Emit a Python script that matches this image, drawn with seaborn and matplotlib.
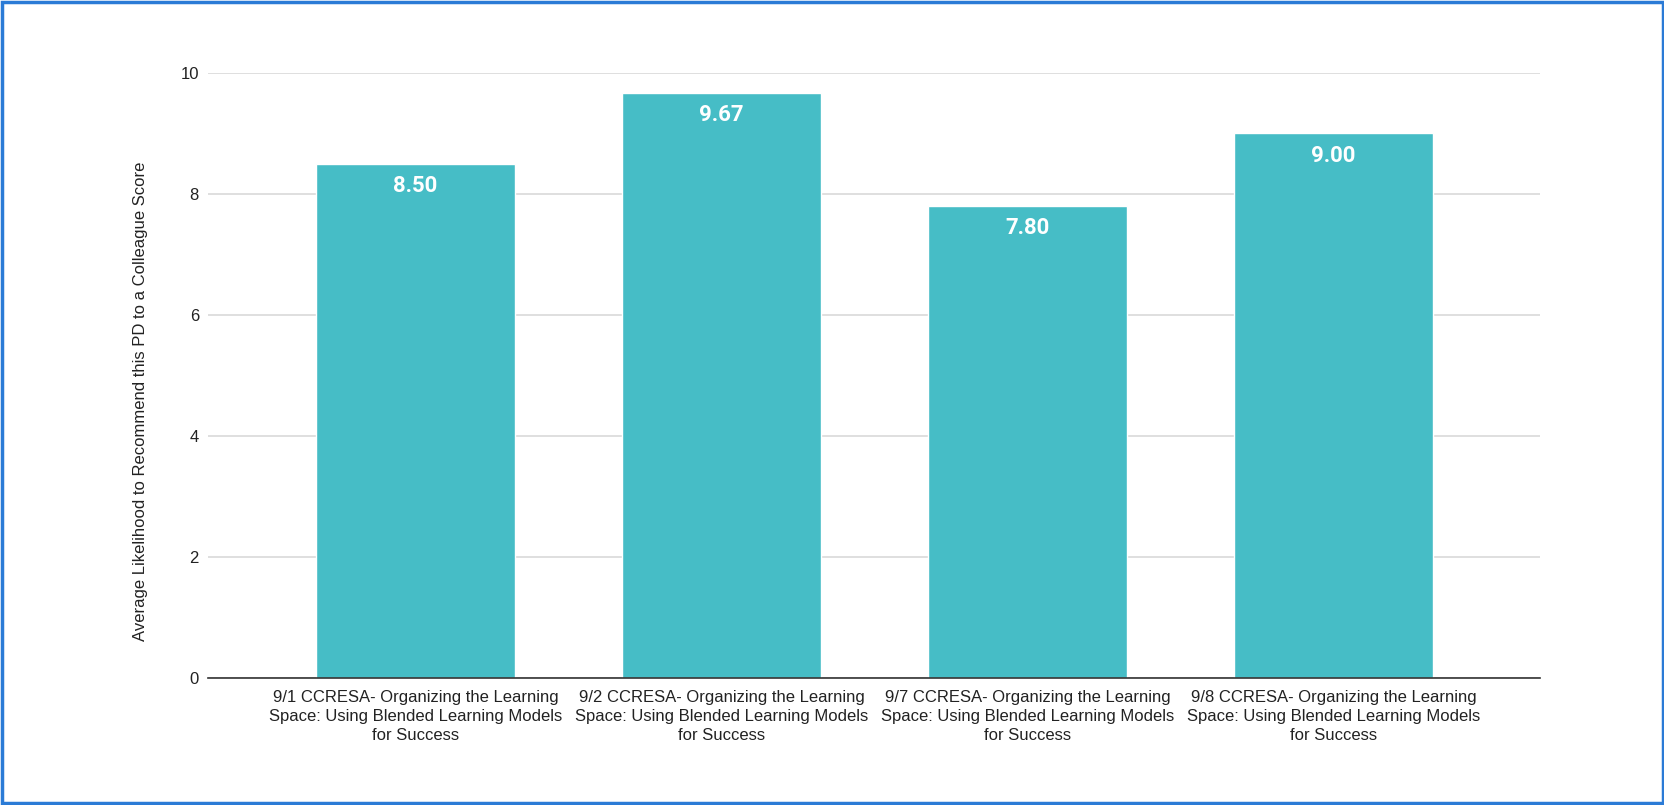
import matplotlib
matplotlib.use('Agg')
import matplotlib.pyplot as plt
import seaborn as sns
import pandas as pd
from matplotlib.patches import Rectangle

sessions = [
    '9/1 CCRESA- Organizing the Learning\nSpace: Using Blended Learning Models\nfor Success',
    '9/2 CCRESA- Organizing the Learning\nSpace: Using Blended Learning Models\nfor Success',
    '9/7 CCRESA- Organizing the Learning\nSpace: Using Blended Learning Models\nfor Success',
    '9/8 CCRESA- Organizing the Learning\nSpace: Using Blended Learning Models\nfor Success',
]
scores = [8.50, 9.67, 7.80, 9.00]
yticks = [0, 2, 4, 6, 8, 10]

df = pd.DataFrame({'session': sessions, 'score': scores})

sns.set_style('white')
plt.rcParams['font.family'] = ['Liberation Sans', 'DejaVu Sans']

fig = plt.figure(figsize=(16.65, 8.05), dpi=100)
ax = fig.add_axes([0.1249, 0.1578, 0.8000, 0.7516])

sns.barplot(data=df, x='session', y='score', color='#46BDC6', saturation=1,
            width=0.65, ax=ax, zorder=3)

ax.set_ylim(0, 10)
ax.set_xlim(-0.678, 3.675)
ax.set_yticks(yticks)
ax.set_yticklabels([str(t) for t in yticks], fontsize=12, color='#222222')
ax.tick_params(axis='x', labelsize=12, colors='#222222', length=0, pad=9)
for lbl in ax.get_xticklabels():
    lbl.set_linespacing(1.3)
ax.tick_params(axis='y', length=0, pad=6.5)
ax.yaxis.grid(True, color='#d9d9d9', linewidth=1.2, zorder=0)
for s in ['top', 'right', 'left']:
    ax.spines[s].set_visible(False)
ax.spines['bottom'].set_color('#333333')
ax.spines['bottom'].set_linewidth(1.2)
ax.spines['bottom'].set_zorder(4)

ax.set_xlabel('')
ax.set_ylabel('Average Likelihood to Recommend this PD to a Colleague Score',
              fontsize=12, color='#222222', va='center')
ax.yaxis.set_label_coords(-0.051, 0.458)

for i, v in enumerate(scores):
    ax.text(i, v - 0.37, f'{v:.2f}', ha='center', va='center', color='white',
            fontsize=16, fontweight='bold', family=['Roboto', 'DejaVu Sans'], zorder=5)

fig.patches.append(Rectangle((0.001, 0.002), 0.998, 0.996, transform=fig.transFigure,
                             fill=False, edgecolor='#2b7bd6', linewidth=2.5))

fig.savefig('out.png', dpi=100, facecolor='white')
